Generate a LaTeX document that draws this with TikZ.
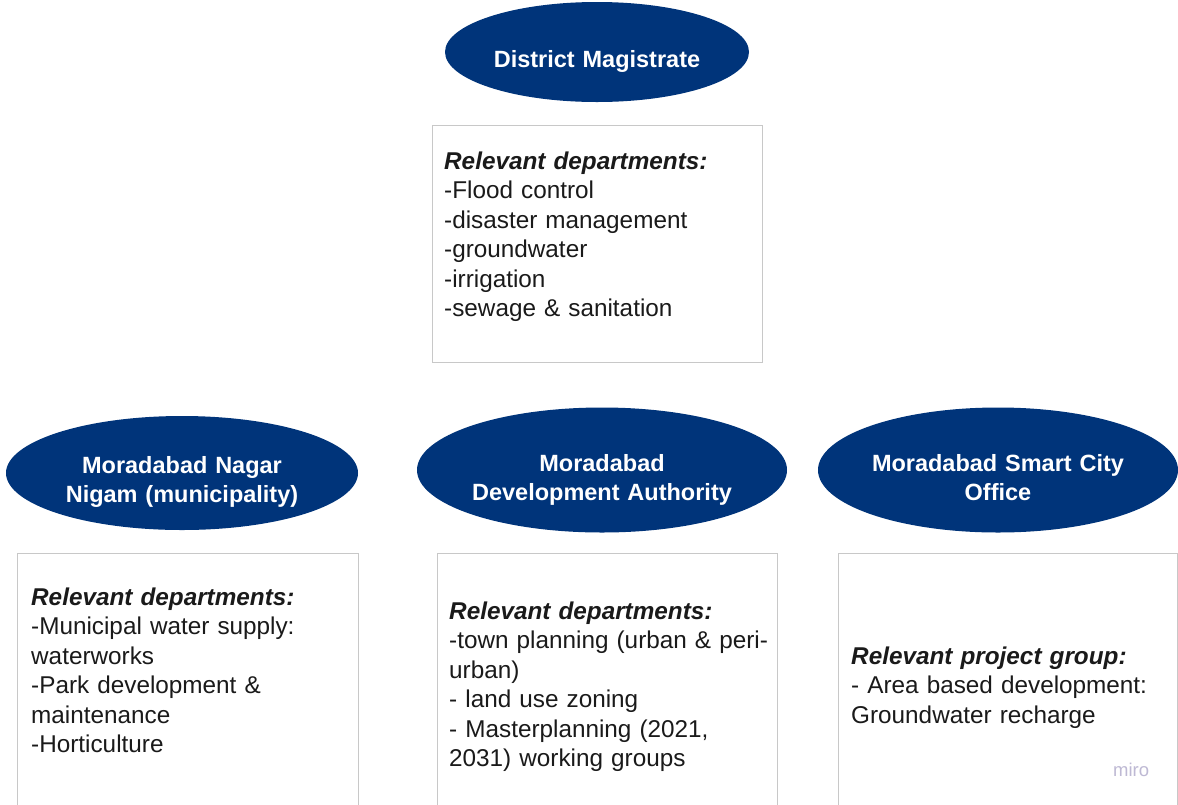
\documentclass[tikz,border=0pt]{standalone}
\usepackage{fontspec}
\setmainfont{Liberation Sans}
\usetikzlibrary{shapes.geometric}
\definecolor{navy}{RGB}{0,52,122}
\definecolor{boxgrey}{RGB}{200,200,200}
\definecolor{txt}{RGB}{26,26,26}
\definecolor{wm}{RGB}{190,185,212}
\tikzset{
  oval/.style={ellipse, fill=navy, draw=none, inner sep=0pt},
  ovaltext/.style={text=white, font=\fontsize{23.5}{29.4}\selectfont\bfseries, align=center, text width=340pt, inner sep=0pt, anchor=base},
  deptbox/.style={draw=boxgrey, line width=1pt, fill=white},
  depttext/.style={text=txt, font=\fontsize{24.3}{29.5}\selectfont, align=left, text width=330pt, inner sep=0pt, anchor=base west},
  wmark/.style={text=wm, font=\fontsize{18.5}{20}\selectfont, inner sep=0pt, anchor=base west}
}
\begin{document}
\begin{tikzpicture}[x=1pt,y=-1pt]
\useasboundingbox (0,0) rectangle (1178,804);
\clip (0,0) rectangle (1178,804);
\fill[white] (0,0) rectangle (1178,804);
% District Magistrate
\node[oval, minimum width=304pt, minimum height=100pt] (dm) at (597,52) {};
\node[ovaltext] (dmt) at (597,67) {District Magistrate};
\draw[deptbox] (432,125) rectangle (762,362);
\node[depttext] (dmd) at (444,169) {\textbf{\textit{Relevant departments:}}\\-Flood control\\-disaster management\\-groundwater\\-irrigation\\-sewage \& sanitation};
% Nagar Nigam
\node[oval, minimum width=352pt, minimum height=114pt] (nn) at (182,473) {};
\node[ovaltext] (nnt) at (182,473) {Moradabad Nagar\\Nigam (municipality)};
\draw[deptbox] (17,553) rectangle (358,830);
\node[depttext] (nnd) at (31,605) {\textbf{\textit{Relevant departments:}}\\-Municipal water supply:\\waterworks\\-Park development \&\\maintenance\\-Horticulture};
% Development Authority
\node[oval, minimum width=370pt, minimum height=125pt] (da) at (602,470) {};
\node[ovaltext] (dat) at (602,471) {Moradabad\\Development Authority};
\draw[deptbox] (437,553) rectangle (777,830);
\node[depttext] (dad) at (449,619) {\textbf{\textit{Relevant departments:}}\\-town planning (urban \& peri-\\urban)\\- land use zoning\\- Masterplanning (2021,\\2031) working groups};
% Smart City
\node[oval, minimum width=360pt, minimum height=125pt] (sc) at (998,470) {};
\node[ovaltext] (sct) at (998,471) {Moradabad Smart City\\Office};
\draw[deptbox] (838,553) rectangle (1177,830);
\node[depttext] (scd) at (851,664) {\textbf{\textit{Relevant project group:}}\\- Area based development:\\Groundwater recharge};
\node[wmark] (miro) at (1113,776) {miro};
\end{tikzpicture}
\end{document}
